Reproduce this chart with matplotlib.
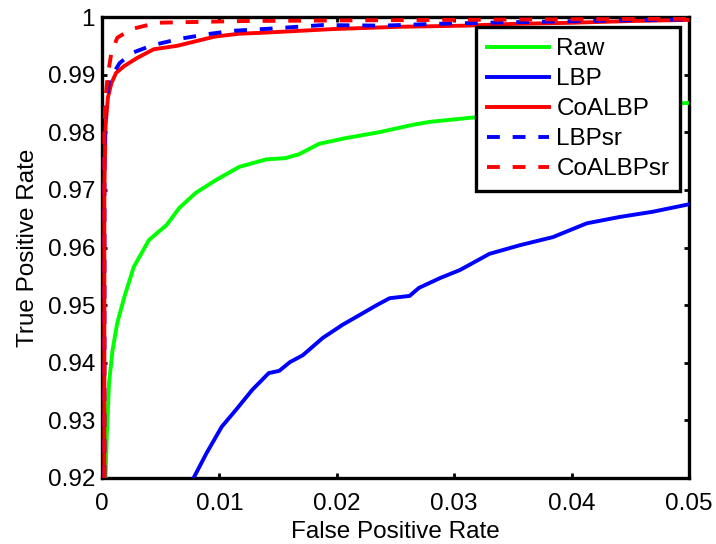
import matplotlib
matplotlib.use("Agg")
import matplotlib.pyplot as plt
import numpy as np

plt.rcParams['font.family'] = ['Liberation Sans', 'DejaVu Sans']

# ROC curves (FPR, TPR)
raw_x = [0.0003, 0.0004, 0.0006, 0.0009, 0.0013, 0.0019, 0.0027, 0.004, 0.0055, 0.0066,
         0.0080, 0.0097, 0.0117, 0.014, 0.0156, 0.0168, 0.0185, 0.0208, 0.0236, 0.0265,
         0.0279, 0.0313, 0.035, 0.04, 0.045, 0.05]
raw_y = [0.920, 0.927, 0.9365, 0.9422, 0.9469, 0.9514, 0.9566, 0.9613, 0.9639, 0.9669,
         0.9695, 0.9717, 0.974, 0.9753, 0.9755, 0.9762, 0.978, 0.979, 0.980, 0.9813,
         0.9818, 0.9825, 0.983, 0.9838, 0.9845, 0.9851]

lbp_x = [0.0078, 0.0089, 0.0102, 0.0114, 0.0128, 0.0142, 0.0151, 0.016, 0.0171, 0.0188,
         0.0205, 0.0217, 0.0234, 0.0245, 0.0262, 0.027, 0.0288, 0.0305, 0.033, 0.0356,
         0.0384, 0.0413, 0.0441, 0.0469, 0.05]
lbp_y = [0.920, 0.9243, 0.9289, 0.9318, 0.9353, 0.9382, 0.9386, 0.9401, 0.9413, 0.9443,
         0.9466, 0.948, 0.950, 0.9512, 0.9516, 0.953, 0.9547, 0.9561, 0.9589, 0.9604,
         0.9618, 0.9642, 0.9653, 0.9662, 0.9675]

coalbp_x = [0.0002, 0.0002, 0.0003, 0.0005, 0.0008, 0.0012, 0.0019, 0.003, 0.0044, 0.0064,
            0.0084, 0.0096, 0.0117, 0.014, 0.0196, 0.0253, 0.031, 0.035, 0.04, 0.045, 0.05]
coalbp_y = [0.92, 0.970, 0.981, 0.986, 0.9885, 0.9903, 0.9915, 0.9929, 0.9944, 0.995,
            0.996, 0.9966, 0.9971, 0.9973, 0.9979, 0.9983, 0.9985, 0.9988, 0.999, 0.9993, 0.9995]

lbpsr_x = [0.0002, 0.0002, 0.0003, 0.0006, 0.0015, 0.0026, 0.0043, 0.0066, 0.0089, 0.0111,
           0.0145, 0.0188, 0.0239, 0.0282, 0.0324, 0.038, 0.044, 0.05]
lbpsr_y = [0.92, 0.975, 0.984, 0.989, 0.992, 0.9938, 0.9951, 0.9962, 0.997, 0.9976,
           0.998, 0.9986, 0.9985, 0.9988, 0.999, 0.9992, 0.9994, 0.9996]

coalbpsr_x = [0.0002, 0.0002, 0.0003, 0.0005, 0.0008, 0.0013, 0.0025, 0.0047, 0.007, 0.012,
              0.02, 0.03, 0.04, 0.05]
coalbpsr_y = [0.92, 0.980, 0.986, 0.990, 0.9938, 0.9964, 0.9979, 0.999, 0.9991, 0.9993,
              0.9994, 0.9995, 0.9996, 0.9997]

xticks = [0, 0.01, 0.02, 0.03, 0.04, 0.05]
xticklabels = ['0', '0.01', '0.02', '0.03', '0.04', '0.05']
yticks = [0.92, 0.93, 0.94, 0.95, 0.96, 0.97, 0.98, 0.99, 1.0]
yticklabels = ['0.92', '0.93', '0.94', '0.95', '0.96', '0.97', '0.98', '0.99', '1']

fs = 17.5
lw = 2.8
dash = (3.3, 3.3)

fig = plt.figure(figsize=(7.16, 5.44), dpi=100)
ax = fig.add_axes([102/716, 66/544, 587/716, 461/544])

ax.plot(raw_x, raw_y, color=(0, 1, 0), lw=lw, label='Raw', zorder=3)
ax.plot(lbp_x, lbp_y, color=(0, 0, 1), lw=lw, label='LBP', zorder=3)
ax.plot(coalbp_x, coalbp_y, color=(1, 0, 0), lw=lw, label='CoALBP', zorder=3)
ax.plot(lbpsr_x, lbpsr_y, color=(0, 0, 1), lw=lw, dashes=dash, label='LBPsr', zorder=3)
ax.plot(coalbpsr_x, coalbpsr_y, color=(1, 0, 0), lw=lw, dashes=dash, label='CoALBPsr', zorder=3)

ax.set_xlim(0, 0.05)
ax.set_ylim(0.92, 1.0)
ax.set_xticks(xticks)
ax.set_xticklabels(xticklabels)
ax.set_yticks(yticks)
ax.set_yticklabels(yticklabels)
ax.tick_params(direction='in', top=True, right=True, length=3.5, width=2,
               labelsize=fs)
ax.tick_params(axis='x', pad=11)
ax.tick_params(axis='y', pad=5)
for s in ax.spines.values():
    s.set_linewidth(2.4)

ax.set_xlabel('False Positive Rate', fontsize=fs, labelpad=4)
ax.set_ylabel('True Positive Rate', fontsize=fs, labelpad=6)

leg = ax.legend(loc='upper right', bbox_to_anchor=(0.985, 0.978), borderaxespad=0,
                fontsize=fs, fancybox=False, framealpha=1, edgecolor='black',
                handlelength=2.55, handletextpad=0.3, labelspacing=0.33,
                borderpad=0.45)
leg.get_frame().set_linewidth(2.4)

fig.savefig('out.png', dpi=100)
